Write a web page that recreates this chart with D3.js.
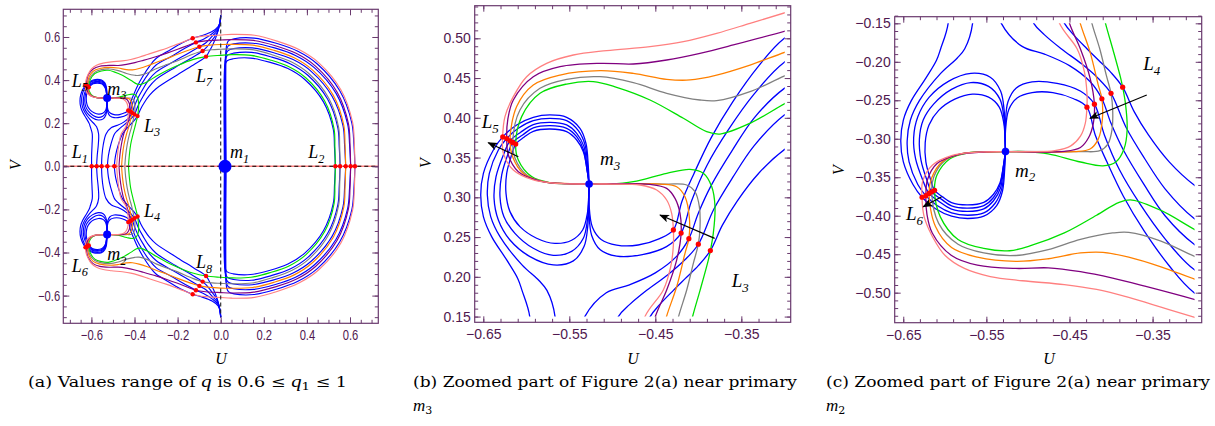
<!DOCTYPE html>
<html><head><meta charset="utf-8">
<script src="https://cdn.jsdelivr.net/npm/d3@7"></script>
<style>
body{margin:0;background:#fff;}
svg{display:block;}
</style></head><body>
<svg id="fig" width="1215" height="426"></svg>
<script>
// Curves are given in the (U, V) plane for V >= 0; the configuration is symmetric
// about V = 0, so the lower half is drawn as the reflection of the same points.

// one colour per value of q1
const qColours = ["#00e000", "#808080", "#ff8000", "#800080", "#ff8080"]; // green, gray, orange, purple, pink

// coloured branches (one per q1), from the V = 0 axis near L1 round to L2
const greenCurve = [[-0.428,0],[-0.424,0.05],[-0.418,0.10],[-0.4065,0.1507],[-0.398,0.183],[-0.3884,0.2211],[-0.386,0.233],[-0.3826,0.2547],[-0.3806,0.2882],[-0.3844,0.3133],[-0.3942,0.3302],[-0.4097,0.3352],[-0.4367,0.3302],[-0.4756,0.3196],[-0.5027,0.3167],[-0.527,0.3167],[-0.5453,0.3167],[-0.5725,0.3184],[-0.5938,0.326],[-0.6093,0.3469],[-0.6124,0.367],[-0.6054,0.4015],[-0.5841,0.4308],[-0.5531,0.4425],[-0.5221,0.4455],[-0.495,0.4383],[-0.4562,0.4224],[-0.4174,0.3994],[-0.3903,0.3826],[-0.3748,0.3796],[-0.3399,0.3931],[-0.2973,0.4191],[-0.25,0.445],[-0.2,0.468],[-0.13,0.495],[-0.068,0.509],[0,0.515],[0.05,0.518],[0.1408,0.515],[0.2296,0.4935],[0.3169,0.4622],[0.3947,0.4107],[0.4825,0.3029],[0.5261,0.1733],[0.53,0.088],[0.532,0]];
const grayCurve = [[-0.445,0],[-0.441,0.05],[-0.434,0.10],[-0.423,0.15],[-0.4135,0.1834],[-0.4058,0.217],[-0.4,0.241],[-0.398,0.263],[-0.3988,0.2882],[-0.4038,0.307],[-0.4135,0.3155],[-0.4368,0.3167],[-0.527,0.3167],[-0.5764,0.3188],[-0.5996,0.3281],[-0.6131,0.349],[-0.6158,0.369],[-0.6074,0.4099],[-0.5841,0.4371],[-0.5531,0.4484],[-0.5143,0.4517],[-0.4756,0.4442],[-0.4368,0.4308],[-0.3981,0.4224],[-0.3787,0.4216],[-0.3399,0.4329],[-0.2973,0.4538],[-0.25,0.472],[-0.2,0.49],[-0.13,0.52],[-0.084,0.535],[-0.04,0.541],[0,0.543],[0.05,0.545],[0.1455,0.5416],[0.2383,0.5175],[0.3293,0.4837],[0.4102,0.4293],[0.5015,0.3162],[0.5472,0.181],[0.552,0.092],[0.554,0]];
const orangeCurve = [[-0.46,0],[-0.456,0.05],[-0.449,0.10],[-0.437,0.15],[-0.4252,0.1875],[-0.4155,0.2296],[-0.411,0.248],[-0.4105,0.2756],[-0.4155,0.3008],[-0.4252,0.3133],[-0.4446,0.3167],[-0.527,0.3167],[-0.5492,0.3172],[-0.5802,0.3197],[-0.6035,0.3301],[-0.6159,0.3511],[-0.619,0.371],[-0.6112,0.4141],[-0.5919,0.4413],[-0.5608,0.4538],[-0.5143,0.4593],[-0.4756,0.4559],[-0.4368,0.4484],[-0.4097,0.4476],[-0.3787,0.4538],[-0.3399,0.4664],[-0.2973,0.4832],[-0.25,0.5],[-0.2,0.52],[-0.14,0.542],[-0.099,0.555],[-0.05,0.562],[0,0.565],[0.05,0.566],[0.149,0.5623],[0.246,0.5386],[0.3409,0.5038],[0.4255,0.4475],[0.5219,0.3304],[0.5712,0.1897],[0.577,0.097],[0.58,0]];
const purpleCurve = [[-0.472,0],[-0.468,0.05],[-0.461,0.10],[-0.45,0.15],[-0.4368,0.1834],[-0.4252,0.2211],[-0.42,0.255],[-0.4213,0.2799],[-0.4271,0.2987],[-0.4368,0.3113],[-0.4562,0.3163],[-0.527,0.3167],[-0.5531,0.3172],[-0.5841,0.3205],[-0.6093,0.3322],[-0.6209,0.3532],[-0.6228,0.374],[-0.6215,0.398],[-0.6151,0.4224],[-0.5919,0.4517],[-0.5608,0.4643],[-0.5143,0.4685],[-0.4756,0.4677],[-0.4368,0.4727],[-0.3981,0.4811],[-0.3593,0.4916],[-0.2973,0.5096],[-0.25,0.525],[-0.2,0.543],[-0.15,0.562],[-0.115,0.575],[-0.07,0.582],[0,0.586],[0.05,0.588],[0.153,0.584],[0.2537,0.5596],[0.352,0.5232],[0.44,0.4647],[0.5405,0.3434],[0.5927,0.1975],[0.6,0.101],[0.603,0]];
const pinkCurve = [[-0.483,0],[-0.479,0.05],[-0.473,0.10],[-0.462,0.15],[-0.4407,0.1834],[-0.4321,0.2127],[-0.429,0.24],[-0.429,0.259],[-0.431,0.2799],[-0.4368,0.2966],[-0.4484,0.3092],[-0.4678,0.3155],[-0.5,0.3167],[-0.527,0.3167],[-0.5647,0.3176],[-0.5919,0.3218],[-0.6151,0.3343],[-0.6267,0.3553],[-0.6275,0.3763],[-0.6248,0.4015],[-0.6151,0.4266],[-0.5996,0.4517],[-0.5764,0.4685],[-0.5453,0.479],[-0.5066,0.4845],[-0.4562,0.4895],[-0.4174,0.4958],[-0.3787,0.5062],[-0.3399,0.5188],[-0.2992,0.5322],[-0.25,0.548],[-0.2,0.567],[-0.16,0.582],[-0.13,0.594],[-0.09,0.603],[-0.04,0.607],[0,0.609],[0.05,0.612],[0.157,0.608],[0.2615,0.581],[0.363,0.542],[0.454,0.4814],[0.5577,0.3555],[0.6118,0.2045],[0.62,0.105],[0.623,0]];
const colouredCurves = [greenCurve, grayCurve, orangeCurve, purpleCurve, pinkCurve];
// the V = 0 axis belongs to the coloured family as well
const axisBranch = [[-0.7304,0],[0.7313,0]];

// blue branches: arcs round m1, diagonals through L7 and L3, loops round m3 (green .. pink)
const blueArcs = [
  [[0.017,0],[0.017,0.44],[0.02,0.471],[0.03,0.49],[0.058,0.499],[0.1385,0.5022],[0.2259,0.4832],[0.3119,0.4535],[0.3889,0.4038],[0.4768,0.2988],[0.5223,0.1719],[0.528,0.087],[0.532,0]],
  [[0.019,0],[0.019,0.465],[0.022,0.497],[0.032,0.516],[0.06,0.525],[0.1432,0.5288],[0.2346,0.5072],[0.3243,0.4751],[0.4044,0.4224],[0.4958,0.3122],[0.5434,0.1796],[0.55,0.091],[0.554,0]],
  [[0.021,0],[0.021,0.485],[0.024,0.518],[0.034,0.537],[0.06,0.546],[0.1469,0.5495],[0.2423,0.5283],[0.3359,0.4951],[0.4197,0.4406],[0.5161,0.3264],[0.5674,0.1883],[0.575,0.096],[0.58,0]],
  [[0.023,0],[0.023,0.505],[0.026,0.54],[0.035,0.559],[0.06,0.568],[0.1507,0.5712],[0.2499,0.5493],[0.3471,0.5145],[0.4342,0.4578],[0.5347,0.3394],[0.5889,0.1961],[0.598,0.1],[0.603,0]],
  [[0.025,0],[0.025,0.53],[0.028,0.565],[0.037,0.583],[0.062,0.592],[0.155,0.595],[0.2577,0.5707],[0.358,0.5335],[0.4482,0.4745],[0.5519,0.3514],[0.6081,0.2031],[0.618,0.104],[0.623,0]]
];
const blueDiagonals = [
  [[0,0.70],[-0.006,0.655],[-0.018,0.61],[-0.035,0.568],[-0.055,0.53],[-0.068,0.509],[-0.12,0.475],[-0.2,0.425],[-0.3,0.36],[-0.33,0.33],[-0.355,0.295],[-0.372,0.265],[-0.386,0.233],[-0.4,0.214],[-0.415,0.198],[-0.429,0.183],[-0.445,0.165],[-0.456,0.15],[-0.475,0.10],[-0.488,0.05],[-0.494,0]],
  [[0,0.70],[-0.005,0.66],[-0.016,0.62],[-0.04,0.585],[-0.065,0.553],[-0.084,0.535],[-0.14,0.5],[-0.21,0.46],[-0.3,0.4035],[-0.335,0.365],[-0.36,0.325],[-0.382,0.285],[-0.4,0.241],[-0.415,0.222],[-0.435,0.203],[-0.46,0.183],[-0.48,0.165],[-0.493,0.15],[-0.51,0.10],[-0.521,0.05],[-0.526,0]],
  [[0,0.70],[-0.004,0.665],[-0.015,0.63],[-0.04,0.603],[-0.07,0.572],[-0.099,0.555],[-0.15,0.525],[-0.22,0.485],[-0.3,0.437],[-0.335,0.4],[-0.36,0.36],[-0.385,0.315],[-0.4,0.28],[-0.411,0.248],[-0.425,0.226],[-0.45,0.205],[-0.48,0.19],[-0.507,0.18],[-0.532,0.15],[-0.545,0.10],[-0.551,0.05],[-0.553,0]],
  [[0,0.70],[-0.003,0.67],[-0.013,0.64],[-0.04,0.615],[-0.08,0.59],[-0.115,0.575],[-0.17,0.545],[-0.23,0.51],[-0.3,0.47],[-0.335,0.43],[-0.365,0.385],[-0.39,0.34],[-0.408,0.295],[-0.42,0.255],[-0.437,0.238],[-0.465,0.228],[-0.495,0.226],[-0.514,0.234],[-0.524,0.252],[-0.527,0.28],[-0.527,0.3167]],
  [[0,0.70],[-0.002,0.675],[-0.012,0.648],[-0.04,0.625],[-0.085,0.607],[-0.13,0.594],[-0.18,0.572],[-0.235,0.54],[-0.3,0.5],[-0.33,0.465],[-0.36,0.42],[-0.385,0.375],[-0.405,0.33],[-0.419,0.295],[-0.429,0.259],[-0.445,0.248],[-0.47,0.24],[-0.495,0.24],[-0.513,0.247],[-0.523,0.262],[-0.527,0.29],[-0.527,0.3167]]
];
const blueLoops = [
  [[-0.527,0.3167],[-0.529,0.3323],[-0.5337,0.3574],[-0.5414,0.3721],[-0.5531,0.3826],[-0.5725,0.3859],[-0.5919,0.383],[-0.6027,0.3755],[-0.6123,0.367],[-0.6171,0.3532],[-0.6228,0.3301],[-0.6236,0.305],[-0.619,0.282],[-0.6074,0.2631],[-0.588,0.2485],[-0.5667,0.242],[-0.5473,0.246],[-0.5345,0.2589],[-0.529,0.2799],[-0.5275,0.3008],[-0.527,0.3167]],
  [[-0.527,0.3167],[-0.5294,0.3344],[-0.5337,0.3604],[-0.5414,0.3763],[-0.5531,0.3868],[-0.5725,0.3901],[-0.5919,0.3872],[-0.6043,0.3784],[-0.6158,0.369],[-0.6217,0.3532],[-0.6286,0.3281],[-0.6306,0.3008],[-0.626,0.2757],[-0.6132,0.2547],[-0.5919,0.2359],[-0.5686,0.227],[-0.5473,0.232],[-0.5337,0.2485],[-0.529,0.2715],[-0.5275,0.2967],[-0.527,0.3167]],
  [[-0.527,0.3167],[-0.5294,0.3365],[-0.5329,0.3637],[-0.5414,0.3805],[-0.5531,0.391],[-0.5725,0.3943],[-0.5919,0.3914],[-0.6066,0.3818],[-0.619,0.371],[-0.6267,0.3532],[-0.6352,0.3259],[-0.6375,0.2987],[-0.6325,0.2715],[-0.619,0.2463],[-0.5957,0.2254],[-0.5686,0.215],[-0.5453,0.22],[-0.5329,0.238],[-0.5286,0.2631],[-0.5275,0.2925],[-0.527,0.3167]],
  [[-0.527,0.3167],[-0.5286,0.3385],[-0.5317,0.3658],[-0.5395,0.3838],[-0.5531,0.3964],[-0.5725,0.3994],[-0.5919,0.3964],[-0.6093,0.3868],[-0.6228,0.374],[-0.6325,0.3595],[-0.643,0.3301],[-0.6453,0.3029],[-0.6414,0.2757],[-0.6306,0.2505],[-0.605,0.215],[-0.585,0.195],[-0.576,0.183],[-0.5666,0.15],[-0.568,0.10],[-0.573,0.05],[-0.576,0]],
  [[-0.527,0.3167],[-0.5279,0.3385],[-0.5306,0.3679],[-0.5376,0.3868],[-0.5531,0.4006],[-0.5725,0.4036],[-0.5919,0.4006],[-0.6112,0.391],[-0.6274,0.376],[-0.6383,0.3595],[-0.6499,0.3301],[-0.653,0.3029],[-0.6499,0.2757],[-0.6403,0.2505],[-0.6228,0.2212],[-0.61,0.198],[-0.605,0.183],[-0.596,0.15],[-0.597,0.10],[-0.599,0.05],[-0.599,0]]
];

// equilibrium points (upper half; L4, L6, L8 are their reflections)
const L1pts = [[-0.5988,0],[-0.5756,0],[-0.5524,0],[-0.5261,0],[-0.4936,0]];
const L2pts = [[0.532,0],[0.554,0],[0.58,0],[0.603,0],[0.623,0]];
const L3pts = [[-0.429,0.259],[-0.42,0.255],[-0.411,0.248],[-0.4,0.241],[-0.386,0.233]];
const L5pts = [[-0.6274,0.376],[-0.6228,0.374],[-0.619,0.371],[-0.6158,0.369],[-0.6123,0.367]];
const L7pts = [[-0.13,0.594],[-0.115,0.575],[-0.099,0.555],[-0.084,0.535],[-0.068,0.509]];
const primaries = [[0.02,0],[-0.527,-0.3167],[-0.527,0.3167]]; // m1, m2, m3

// tick values and labels
const ticksA = [-0.6,-0.4,-0.2,0,0.2,0.4,0.6];
const tickLabelsA = ["\u22120.6","\u22120.4","\u22120.2","0.0","0.2","0.4","0.6"];
const ticksUzoom = [-0.65,-0.55,-0.45,-0.35];
const tickLabelsUzoom = ["\u22120.65","\u22120.55","\u22120.45","\u22120.35"];
const ticksVb = [0.15,0.20,0.25,0.30,0.35,0.40,0.45,0.50];
const tickLabelsVb = ["0.15","0.20","0.25","0.30","0.35","0.40","0.45","0.50"];
const ticksVc = [-0.50,-0.45,-0.40,-0.35,-0.30,-0.25,-0.20,-0.15];
const tickLabelsVc = ["\u22120.50","\u22120.45","\u22120.40","\u22120.35","\u22120.30","\u22120.25","\u22120.20","\u22120.15"];

// direction arrows in the zoomed views (tail, head)
const arrowsB = [[[-0.381,0.2484],[-0.4445,0.2777]],[[-0.6093,0.351],[-0.6442,0.3687]]];
const arrowsC = [[[-0.357,-0.2432],[-0.4253,-0.2734]],[[-0.6038,-0.3753],[-0.626,-0.3883]]];

// point labels: [name, subscript, U, V]
const labelsA = [["L","5",-0.6914,0.3694],["m","3",-0.5262,0.3309],["L","3",-0.3559,0.1606],["L","7",-0.1146,0.3926],
  ["L","1",-0.6914,0.0371],["m","1",0.0432,0.0371],["L","2",0.4065,0.0371],["L","4",-0.3559,-0.2339],
  ["m","2",-0.5262,-0.4348],["L","6",-0.6914,-0.4891],["L","8",-0.1146,-0.4733]];
const labelsB = [["L","5",-0.6519,0.3868],["m","3",-0.5143,0.3406],["L","3",-0.3612,0.1875]];
const labelsC = [["L","4",-0.3612,-0.2107],["m","2",-0.5156,-0.3493],["L","6",-0.6468,-0.4056]];

// ---------------------------------------------------------------------------
const svg = d3.select("#fig");
const FRAME = "#6a3a6e", TICKTXT = "#50184f";
const SERIF = "'Liberation Serif','Times New Roman',serif";
const CAPTION = "'DejaVu Serif',serif";
const mirror = pts => pts.map(([u, v]) => [u, -v]);

const defs = svg.append("defs");
defs.append("marker").attr("id", "head").attr("viewBox", "0 0 10 8").attr("refX", 9).attr("refY", 4)
  .attr("markerWidth", 11).attr("markerHeight", 8).attr("markerUnits", "userSpaceOnUse").attr("orient", "auto")
  .append("path").attr("d", "M0,0 L10,4 L0,8 L2.5,4 Z").attr("fill", "#000");

const panels = [
  { id: "a", px: [63.3, 378.3], py: [9.3, 323.3], u: [-0.7304, 0.7313], v: [0.7285, -0.7285],
    xt: ticksA, xl: tickLabelsA, yt: ticksA, yl: tickLabelsA, xminor: d3.range(-0.7, 0.7001, 0.05), yminor: d3.range(-0.7, 0.7001, 0.05),
    squeeze: 0.8, lw: 1.15, dot: 2.2, prim: [6.5, 4, 4], labels: labelsA, lab: 18, arrows: [], axes: true,
    clip: null, uTitle: [221, 364], vTitle: [15, 165] },
  { id: "b", px: [474.7, 790.7], py: [5.7, 322.3], u: [-0.66, -0.2926], v: [0.541, 0.1428],
    xt: ticksUzoom, xl: tickLabelsUzoom, yt: ticksVb, yl: tickLabelsVb, xminor: d3.range(-0.65, -0.29, 0.02), yminor: d3.range(0.15, 0.5401, 0.01),
    squeeze: 1, lw: 1.3, dot: 2.6, prim: [6, 3.8, 3.8], labels: labelsB, lab: 19, arrows: arrowsB, axes: false,
    clip: [[-0.665, -0.2995], [0.5405, 0.15]], uTitle: [633, 364], vTitle: [425, 163] },
  { id: "c", px: [894.7, 1201.7], py: [16.7, 322.7], u: [-0.6603, -0.2909], v: [-0.1414, -0.539],
    xt: ticksUzoom, xl: tickLabelsUzoom, yt: ticksVc, yl: tickLabelsVc, xminor: d3.range(-0.65, -0.29, 0.02), yminor: d3.range(-0.53, -0.1399, 0.01),
    squeeze: 1, lw: 1.3, dot: 2.6, prim: [6, 3.8, 3.8], labels: labelsC, lab: 19, arrows: arrowsC, axes: false,
    clip: [[-0.665, -0.2995], [-0.15, -0.535]], uTitle: [1049, 364], vTitle: [838, 170] }
];

panels.forEach(p => {
  const x = d3.scaleLinear().domain(p.u).range(p.px);
  const y = d3.scaleLinear().domain(p.v).range(p.py);
  const g = svg.append("g");
  const line = d3.line().x(d => x(d[0])).y(d => y(d[1])).curve(d3.curveCatmullRom.alpha(0.5));

  // clip region of the plot
  const cu = p.clip ? p.clip[0] : p.u, cv = p.clip ? p.clip[1] : p.v;
  defs.append("clipPath").attr("id", "clip-" + p.id).append("rect")
    .attr("x", x(cu[0])).attr("y", y(cv[0]))
    .attr("width", x(cu[1]) - x(cu[0])).attr("height", y(cv[1]) - y(cv[0]));
  const plot = g.append("g").attr("clip-path", `url(#clip-${p.id})`);

  const both = set => set.flatMap(c => [c, mirror(c)]);
  const curve = (pts, colour, w) => plot.append("path").attr("d", line(pts))
    .attr("fill", "none").attr("stroke", colour).attr("stroke-width", w).attr("stroke-linejoin", "round");

  // blue family
  both([...blueArcs, ...blueDiagonals, ...blueLoops]).forEach(c => curve(c, "#0000ff", p.lw));
  // coloured family, one per q1
  colouredCurves.forEach((c, i) => { curve(c, qColours[i], p.lw); curve(mirror(c), qColours[i], p.lw); });

  if (p.axes) {
    curve(axisBranch, qColours[4], 1.6);
    plot.append("line").attr("x1", x(axisBranch[0][0])).attr("x2", x(axisBranch[1][0]))
      .attr("y1", y(0)).attr("y2", y(0)).attr("stroke", "#000").attr("stroke-width", 1.1).attr("stroke-dasharray", "4,3");
    plot.append("line").attr("x1", x(0)).attr("x2", x(0)).attr("y1", y(0.7)).attr("y2", y(-0.7))
      .attr("stroke", "#222").attr("stroke-width", 1.1).attr("stroke-dasharray", "4,3");
  }

  // equilibrium points
  const eq = [...L1pts, ...L2pts, ...L3pts, ...mirror(L3pts), ...L5pts, ...mirror(L5pts), ...L7pts, ...mirror(L7pts)];
  plot.selectAll(null).data(eq).join("circle").attr("cx", d => x(d[0])).attr("cy", d => y(d[1]))
    .attr("r", p.dot).attr("fill", "#ff0000");
  // primaries
  plot.selectAll(null).data(primaries).join("circle").attr("cx", d => x(d[0])).attr("cy", d => y(d[1]))
    .attr("r", (d, i) => p.prim[i]).attr("fill", "#0000ff");

  // arrows
  p.arrows.forEach(([a, b]) => {
    g.append("line").attr("x1", x(a[0])).attr("y1", y(a[1])).attr("x2", x(b[0])).attr("y2", y(b[1]))
      .attr("stroke", "#000").attr("stroke-width", 1.2).attr("marker-end", "url(#head)");
  });

  // point labels
  p.labels.forEach(([n, s, u, v]) => {
    const t = g.append("text").attr("x", x(u)).attr("y", y(v)).attr("font-family", SERIF)
      .attr("font-style", "italic").attr("font-size", p.lab).attr("fill", "#000");
    t.append("tspan").text(n);
    t.append("tspan").attr("dy", p.lab * 0.25).attr("font-size", p.lab * 0.68).text(s);
  });

  // frame
  g.append("rect").attr("x", p.px[0]).attr("y", p.py[0]).attr("width", p.px[1] - p.px[0]).attr("height", p.py[1] - p.py[0])
    .attr("fill", "none").attr("stroke", FRAME).attr("stroke-width", 1.2);

  // axes: inward ticks on all four sides, labels on the left and bottom
  const styleAxis = (sel) => { sel.select(".domain").remove(); sel.selectAll("line").attr("stroke", FRAME).attr("stroke-width", 1); };
  const addAxis = (gen, tx, ty, vals, size, fmt, pad) => {
    const a = g.append("g").attr("transform", `translate(${tx},${ty})`)
      .call(gen.tickValues(vals).tickSize(-size).tickPadding(pad).tickFormat(fmt));
    styleAxis(a);
    a.selectAll("text").attr("fill", TICKTXT).attr("font-family", "'Liberation Sans',Arial,sans-serif").attr("font-size", 14);
    return a;
  };
  const none = () => "";
  const bx = addAxis(d3.axisBottom(x), 0, p.py[1], p.xt, 6, (d, i) => p.xl[i], 7);
  addAxis(d3.axisBottom(x), 0, p.py[1], p.xminor, 3.5, none, 7);
  addAxis(d3.axisTop(x), 0, p.py[0], p.xt, 6, none, 3);
  addAxis(d3.axisTop(x), 0, p.py[0], p.xminor, 3.5, none, 3);
  const ly = addAxis(d3.axisLeft(y), p.px[0], 0, p.yt, 6, (d, i) => p.yl[i], 4);
  addAxis(d3.axisLeft(y), p.px[0], 0, p.yminor, 3.5, none, 4);
  addAxis(d3.axisRight(y), p.px[1], 0, p.yt, 6, none, 3);
  addAxis(d3.axisRight(y), p.px[1], 0, p.yminor, 3.5, none, 3);
  if (p.squeeze !== 1) {
    bx.selectAll("text").attr("transform", `scale(${p.squeeze},1)`);
    ly.selectAll("text").attr("transform", `scale(${p.squeeze},1)`);
  }

  // axis titles
  svg.append("text").attr("x", p.uTitle[0]).attr("y", p.uTitle[1]).attr("text-anchor", "middle")
    .attr("font-family", SERIF).attr("font-style", "italic").attr("font-size", 16).text("U");
  svg.append("text").attr("transform", `translate(${p.vTitle[0]},${p.vTitle[1]}) rotate(-90)`).attr("text-anchor", "middle")
    .attr("dy", "0.35em").attr("font-family", SERIF).attr("font-style", "italic").attr("font-size", 16).text("V");
});

// captions
function caption(xp, yp, width, parts) {
  const t = svg.append("text").attr("x", xp).attr("y", yp).attr("font-family", CAPTION).attr("font-size", 14.5)
    .attr("fill", "#000");
  if (width) t.attr("textLength", width).attr("lengthAdjust", "spacingAndGlyphs");
  parts.forEach(([s, kind]) => {
    const ts = t.append("tspan").text(s);
    if (kind === "i") ts.attr("font-style", "italic").attr("font-family", SERIF).attr("font-size", 17);
    if (kind === "sub") ts.attr("font-size", 11).attr("dy", 3);
    if (kind === "up") ts.attr("dy", -3);
  });
}
caption(28, 387, 319, [["(a) Values range of "], ["q", "i"], [" is 0.6 \u2264 "], ["q", "i"], ["1", "sub"], [" \u2264 1", "up"]]);
caption(413, 387, 384, [["(b) Zoomed part of Figure 2(a) near primary"]]);
caption(413, 411, null, [["m", "i"], ["3", "sub"]]);
caption(826, 387, 384, [["(c) Zoomed part of Figure 2(a) near primary"]]);
caption(826, 411, null, [["m", "i"], ["2", "sub"]]);
</script>
</body></html>
